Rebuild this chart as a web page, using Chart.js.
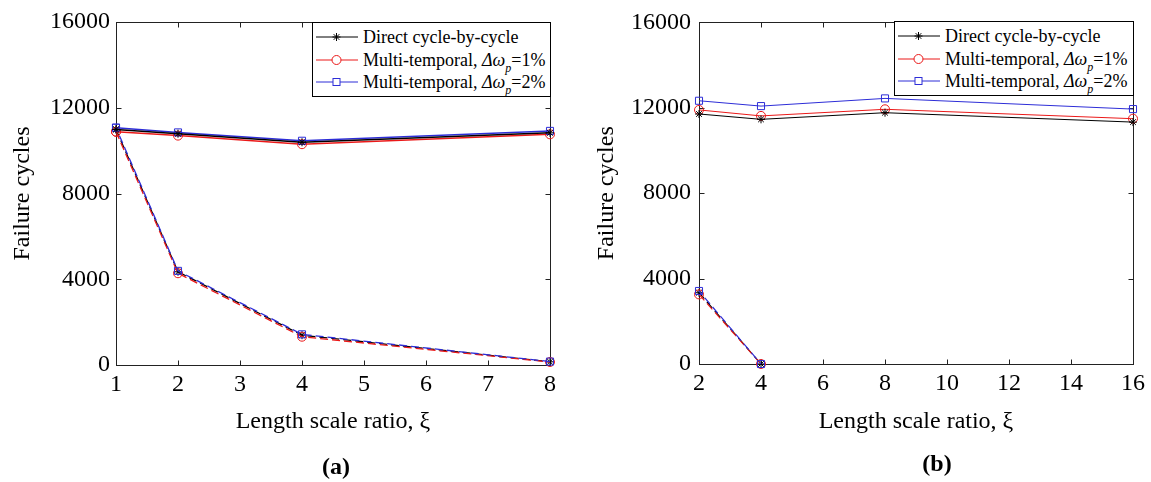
<!DOCTYPE html>
<html><head><meta charset="utf-8">
<script src="https://cdn.jsdelivr.net/npm/chart.js@4/dist/chart.umd.min.js"></script>
<style>
body{margin:0;width:1151px;height:482px;background:#fff;position:relative;overflow:hidden;font-family:"Liberation Serif","Times New Roman",serif;color:#000;}
.cw{position:absolute;top:0;height:482px;}
.legend{position:absolute;border:1px solid #000;background:#fff;box-sizing:border-box;font-size:18px;}
.row{position:absolute;left:2px;height:22px;white-space:nowrap;}
.row svg{position:absolute;left:0;top:0;width:46px;height:22px;}
.row span{position:absolute;left:48px;top:0;line-height:22px;}
.row i{font-style:italic;}
.row sub{font-size:12px;font-style:italic;vertical-align:-6px;line-height:0;}
.lab{position:absolute;font-weight:bold;font-size:24px;width:100px;text-align:center;line-height:24px;}
</style>
</head><body>
<div class="cw" style="left:0;width:575px;"><canvas id="ca" width="575" height="482"></canvas></div>
<div class="cw" style="left:575px;width:576px;"><canvas id="cb" width="576" height="482"></canvas></div>
<div id="lga" class="legend" style="left:312px;top:22px;width:239px;height:75px;"></div>
<div id="lgb" class="legend" style="left:894px;top:21px;width:240px;height:75px;"></div>
<div class="lab" style="left:286px;top:454px;">(a)</div>
<div class="lab" style="left:887px;top:451px;">(b)</div>
<script>
// ---- data ----
const xA = [1, 2, 4, 8];
const directA = [10990, 10790, 10390, 10830];
const mt1A = [10880, 10700, 10300, 10760];
const mt2A = [11070, 10850, 10460, 10920];
const xA2 = [1, 2, 4, 8];
const directA2 = [10990, 4350, 1390, 150];
const mt1A2 = [10880, 4280, 1320, 140];
const mt2A2 = [11070, 4390, 1430, 160];

const xB = [2, 4, 8, 16];
const directB = [11710, 11460, 11770, 11330];
const mt1B = [11900, 11620, 11930, 11490];
const mt2B = [12330, 12080, 12440, 11940];
const xB2 = [2, 4];
const directB2 = [3340, 0];
const mt1B2 = [3260, 0];
const mt2B2 = [3420, 0];

const seriesNames = ['Direct cycle-by-cycle', 'Multi-temporal, Δω_p=1%', 'Multi-temporal, Δω_p=2%'];
const yTicks = [0, 4000, 8000, 12000, 16000];
const xTitle = 'Length scale ratio, ξ';
const yTitle = 'Failure cycles';

// ---- styles ----
const BLACK = '#000000', RED = 'rgb(235,25,25)', BLUE = 'rgb(45,45,215)';
const FONT = "'Liberation Serif','Times New Roman',serif";

function pts(xs, ys){ return xs.map((x,i)=>({x:x, y:ys[i]})); }
function ds(label, xs, ys, kind, dashed, lw){
  const base = {label, data: pts(xs, ys), fill:false, tension:0, clip:false, borderWidth:lw, pointBorderWidth:1, pointHoverRadius:0};
  if(kind==='d'){ Object.assign(base,{borderColor:BLACK, pointStyle:'star', pointRadius:4, pointBorderColor:BLACK, pointBackgroundColor:BLACK, order:dashed?5:0}); }
  if(kind==='r'){ Object.assign(base,{borderColor:RED, pointStyle:'circle', pointRadius:4.5, pointBorderColor:RED, pointBackgroundColor:'rgba(0,0,0,0)', order:dashed?4:2}); }
  if(kind==='b'){ Object.assign(base,{borderColor:BLUE, pointStyle:'rect', pointRadius:5, pointBorderColor:BLUE, pointBackgroundColor:'rgba(0,0,0,0)', order:dashed?3:1}); }
  if(dashed){ base.borderDash=[8,4]; base.borderDashOffset = kind==='b'?3:0; }
  return base;
}

const boxPlugin = {
  id:'boxTicks',
  beforeDatasetsDraw(chart){
    const {ctx, chartArea:{left,right,top,bottom}, scales:{x,y}} = chart;
    const L=Math.round(left)+0.5, R=Math.round(right)+0.5, T=Math.round(top)+0.5, B=Math.round(bottom)+0.5;
    ctx.save();
    ctx.strokeStyle='#222'; ctx.lineWidth=1;
    ctx.strokeRect(L, T, R-L, B-T);
    ctx.beginPath();
    const tl=5;
    x.ticks.forEach(t=>{ const p=Math.round(x.getPixelForValue(t.value))+0.5; ctx.moveTo(p,B); ctx.lineTo(p,B-tl); ctx.moveTo(p,T); ctx.lineTo(p,T+tl); });
    y.ticks.forEach(t=>{ const p=Math.round(y.getPixelForValue(t.value))+0.5; ctx.moveTo(L,p); ctx.lineTo(L+tl,p); ctx.moveTo(R,p); ctx.lineTo(R-tl,p); });
    ctx.stroke();
    ctx.restore();
  }
};

function makeChart(id, datasets, xmin, xmax, xstep, yw, xh, pad, ytPad, ylabPad){
  return new Chart(document.getElementById(id), {
    type:'line',
    data:{datasets},
    plugins:[boxPlugin],
    options:{
      responsive:false, animation:false, events:[],
      layout:{padding:pad},
      plugins:{legend:{display:false}, tooltip:{enabled:false}},
      scales:{
        x:{type:'linear', min:xmin, max:xmax,
           ticks:{stepSize:xstep, color:'#000', font:{family:FONT, size:24}, padding:5, maxRotation:0},
           grid:{display:false, drawTicks:false}, border:{display:false},
           title:{display:true, text:xTitle, color:'#000', font:{family:FONT, size:24}, padding:{top:0, bottom:46}},
           afterFit(s){ s.height = xh; }},
        y:{type:'linear', min:0, max:16000,
           afterBuildTicks(s){ s.ticks = yTicks.map(v=>({value:v})); },
           ticks:{color:'#000', font:{family:FONT, size:24}, padding:ylabPad, callback:v=>String(v)},
           grid:{display:false, drawTicks:false}, border:{display:false},
           title:{display:true, text:yTitle, color:'#000', font:{family:FONT, size:24}, padding:{top:ytPad, bottom:0}},
           afterFit(s){ s.width = yw; }}
      }
    }
  });
}

makeChart('ca', [
  ds(seriesNames[0], xA, directA, 'd', false, 1.5),
  ds(seriesNames[1], xA, mt1A, 'r', false, 1.5),
  ds(seriesNames[2], xA, mt2A, 'b', false, 1.5),
  ds(seriesNames[0], xA2, directA2, 'd', true, 1.3),
  ds(seriesNames[1], xA2, mt1A2, 'r', true, 1.3),
  ds(seriesNames[2], xA2, mt2A2, 'b', true, 1.3)
], 1, 8, 1, 116, 117, {left:0, top:22, right:25, bottom:0}, 8, 6);

makeChart('cb', [
  ds(seriesNames[0], xB, directB, 'd', false, 1),
  ds(seriesNames[1], xB, mt1B, 'r', false, 1),
  ds(seriesNames[2], xB, mt2B, 'b', false, 1),
  ds(seriesNames[0], xB2, directB2, 'd', true, 1.2),
  ds(seriesNames[1], xB2, mt1B2, 'r', true, 1.2),
  ds(seriesNames[2], xB2, mt2B2, 'b', true, 1.2)
], 2, 16, 2, 124, 118, {left:0, top:21, right:18, bottom:0}, 17, 8);

// ---- legends ----
function markerSvg(kind){
  const c = kind==='d'?BLACK:(kind==='r'?RED:BLUE);
  let m='';
  if(kind==='d'){ m = `<path d="M21.5 7v8M17.5 11h8M18.7 8.2l5.6 5.6M24.3 8.2l-5.6 5.6" stroke="${c}" stroke-width="1"/>`; }
  if(kind==='r'){ m = `<circle cx="21.5" cy="11" r="4.5" fill="#fff" stroke="${c}" stroke-width="1"/>`; }
  if(kind==='b'){ m = `<rect x="18" y="7.5" width="7" height="7" fill="#fff" stroke="${c}" stroke-width="1"/>`; }
  return `<svg viewBox="0 0 46 22"><line x1="1" y1="11" x2="43" y2="11" stroke="${c}" stroke-width="1"/>${m}</svg>`;
}
function labelHtml(name){
  const m = name.match(/^(.*)Δω_p(.*)$/);
  if(!m) return name;
  return `${m[1]}<i>Δω</i><sub>p</sub>${m[2]}`;
}
function buildLegend(id){
  const el = document.getElementById(id);
  const kinds=['d','r','b'];
  const tops=[3,25.5,48];
  el.innerHTML = seriesNames.map((n,i)=>`<div class="row" style="top:${tops[i]}px;width:234px;">${markerSvg(kinds[i])}<span>${labelHtml(n)}</span></div>`).join('');
}
buildLegend('lga'); buildLegend('lgb');
</script>
</body></html>
